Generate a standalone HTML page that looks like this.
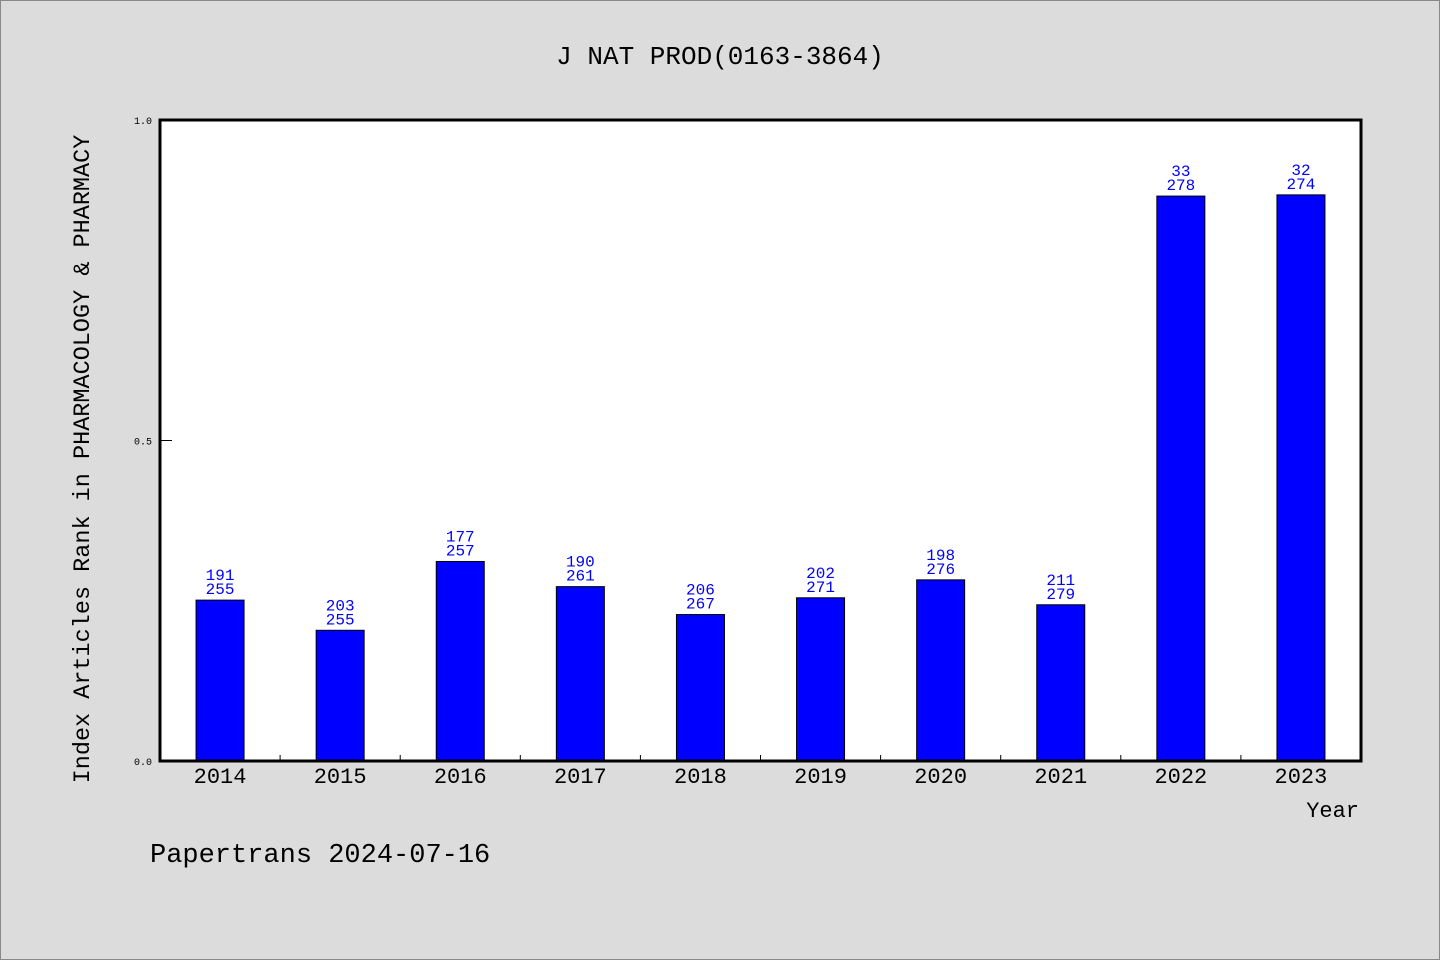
<!DOCTYPE html>
<html><head><meta charset="utf-8"><style>
html,body{margin:0;padding:0;background:#dcdcdc;}
svg{display:block;font-family:"Liberation Mono",monospace;}
</style></head><body>
<svg id="chart" width="1440" height="960" xmlns="http://www.w3.org/2000/svg">
<rect x="0.5" y="0.5" width="1439" height="959" fill="#dcdcdc" stroke="#888"/>
<text x="720" y="64" text-anchor="middle" font-size="26" fill="#000">J NAT PROD(0163-3864)</text>
<rect x="160" y="120" width="1201" height="641" fill="#fff"/>
<g id="bars"></g>
<g id="axes"></g>
<text transform="translate(89,459) rotate(-90)" text-anchor="middle" font-size="23.5" fill="#000">Index Articles Rank in PHARMACOLOGY &amp; PHARMACY</text>
<text x="1359" y="817" text-anchor="end" font-size="22" fill="#000">Year</text>
<text x="150" y="862" font-size="27" fill="#000">Papertrans 2024-07-16</text>
</svg>
<script>
const years = ["2014","2015","2016","2017","2018","2019","2020","2021","2022","2023"];
const ranks = [191,203,177,190,206,202,198,211,33,32];
const totals = [255,255,257,261,267,271,276,279,278,274];
const yTicks = [0,0.5,1];
const yTickLabels = ["0.0","0.5","1.0"];

const NS="http://www.w3.org/2000/svg";
const X0=160, X1=1361, Y0=761, Y1=120;
const band=(X1-X0)/years.length;
const xc=i=>X0+band*(i+0.5);
const y=v=>Y0-(Y0-Y1)*v;
function mk(tag,attrs,parent){const e=document.createElementNS(NS,tag);for(const k in attrs)e.setAttribute(k,attrs[k]);parent.appendChild(e);return e;}
const bars=document.getElementById('bars');
const axes=document.getElementById('axes');
years.forEach((yr,i)=>{
  const v=1-ranks[i]/totals[i];
  const r=mk('rect',{x:xc(i)-24,y:y(v),width:48,height:Y0-y(v),fill:'#0000ff',stroke:'#000','stroke-width':1},bars);
  
  
  const t1=mk('text',{x:xc(i),y:y(v)-20,'text-anchor':'middle','font-size':16,fill:'#0000ff'},bars);
  t1.textContent=ranks[i];
  
  
  const t2=mk('text',{x:xc(i),y:y(v)-6,'text-anchor':'middle','font-size':16,fill:'#0000ff'},bars);
  t2.textContent=totals[i];
  
  
  const xl=mk('text',{x:xc(i),y:783,'text-anchor':'middle','font-size':22,fill:'#000'},axes);
  xl.textContent=yr;
  
  
  if(i>0){
    const tk=mk('line',{x1:X0+band*i,x2:X0+band*i,y1:Y0,y2:Y0-6,stroke:'#000','stroke-width':1},axes);
    
    
  }
});
yTicks.forEach((v,i)=>{
  const tk=mk('line',{x1:X0,x2:X0+12,y1:y(v),y2:y(v),stroke:'#000','stroke-width':1},axes);
  
  
  const tl=mk('text',{x:152,y:y(v)+4,'text-anchor':'end','font-size':10,fill:'#000'},axes);
  tl.textContent=yTickLabels[i];
  
  
});
const frame=mk('rect',{x:X0,y:Y1,width:X1-X0,height:Y0-Y1,fill:'none',stroke:'#000','stroke-width':3},axes);


</script>
</body></html>
